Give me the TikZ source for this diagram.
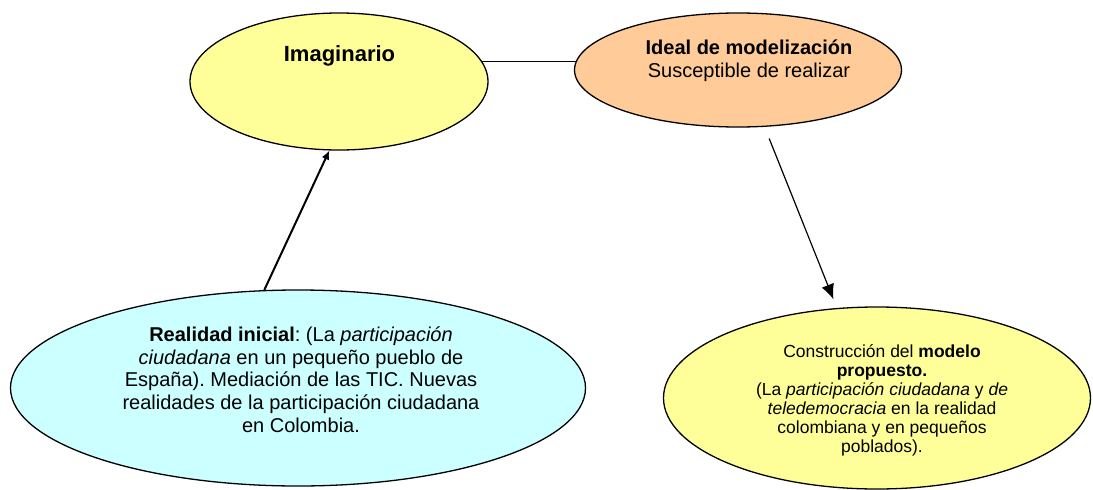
\documentclass[tikz,border=0pt]{standalone}
\usepackage{fontspec}
\setmainfont{Liberation Sans}
\usetikzlibrary{arrows.meta,shapes}
\frenchspacing
\definecolor{paleyellow}{HTML}{FFFF99}
\definecolor{paleorange}{HTML}{FFCC99}
\definecolor{palecyan}{HTML}{CCFFFF}
\tikzstyle{bubble}=[ellipse,draw,line width=1.3pt,inner sep=0pt]
\tikzstyle{bubbletext}=[align=center,inner sep=0pt,font=\fontsize{20}{22.75}\selectfont]
\tikzstyle{link}=[draw,line width=1.4pt]

\begin{document}
\begin{tikzpicture}[x=1pt,y=-1pt]
    \useasboundingbox (0,0) rectangle (1093,490);
    % First we draw the ellipses
    \foreach \pos/\name/\col/\w/\h in {{(339,81.5)/imag/paleyellow/298/137}, {(738,70)/ideal/paleorange/327/114},
                                      {(298,388)/real/palecyan/575/196}, {(877,398)/model/paleyellow/427/182}}
        \node[bubble, fill=\col, minimum width=\w pt, minimum height=\h pt] (\name) at \pos {};
    % Then the texts inside them
    \node[bubbletext, font=\fontsize{22}{26}\selectfont\bfseries, anchor=base] (imag-text) at (339.5,61) {Imaginario};
    \node[bubbletext] (ideal-text) at (749,61) {\textbf{Ideal de modelización}\\Susceptible de realizar};
    \node[bubbletext] (real-text) at (301,379.6) {\textbf{Realidad inicial}: (La \textit{participación}\\
        \textit{ciudadana} en un pequeño pueblo de\\ España). Mediación de las TIC. Nuevas\\
        realidades de la participación ciudadana\\ en Colombia.};
    \node[bubbletext, font=\fontsize{17.5}{19}\selectfont] (model-text) at (882,400.7) {Construcción del \textbf{modelo}\\
        \textbf{propuesto.}\\ (La \textit{participación ciudadana} y \textit{de}\\ \textit{teledemocracia} en la realidad\\
        colombiana y en pequeños\\ poblados).};
    % Connect the ellipses
    \draw[link] (imag.8.9) -- (imag.8.9 -| ideal.176.1);
    \draw[link, line width=2pt, -{Latex[length=9pt,width=8pt]}] (real.109.8) -- (imag.-98.3);
    \draw[link, line width=1.2pt, shorten <=12.5pt, shorten >=9.4pt, -{Latex[length=15pt,width=13pt]}] (ideal.-65.7) -- (model.114.9);
\end{tikzpicture}
\end{document}
